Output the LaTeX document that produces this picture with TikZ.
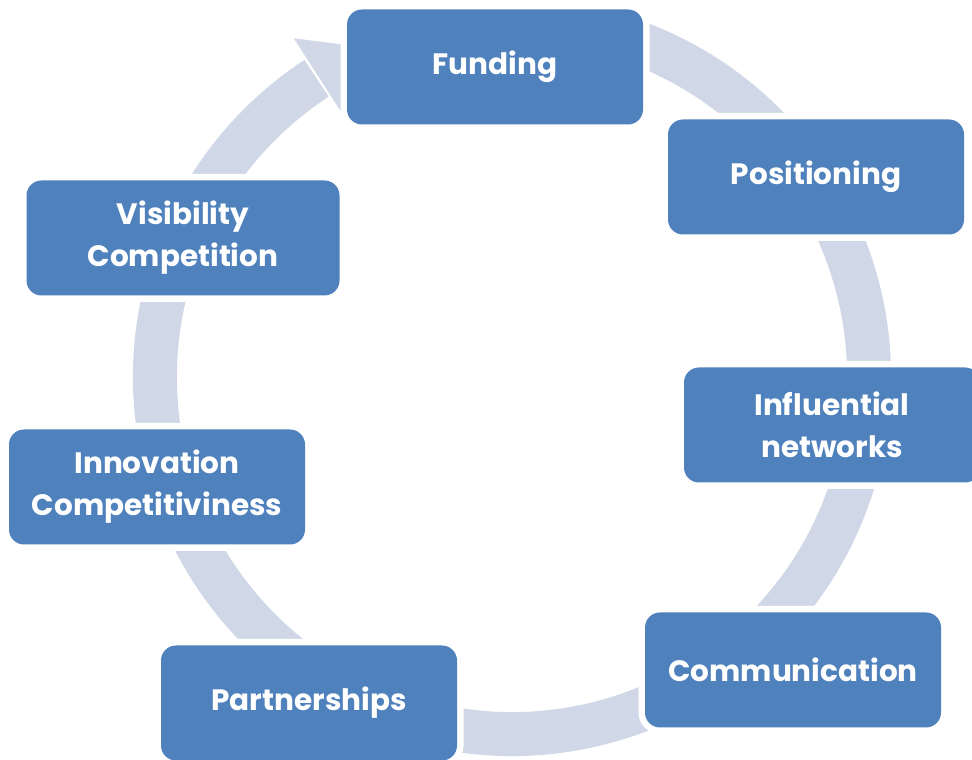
\documentclass[tikz,border=0pt]{standalone}
\usepackage{fontspec}
\setmainfont{Poppins}
\usepackage{tikz}
\usetikzlibrary{positioning}
\definecolor{boxblue}{HTML}{4F81BD}
\definecolor{ringgray}{HTML}{D0D8E8}

\begin{document}
\begin{tikzpicture}[x=1pt, y=1pt,
    stage/.style={rectangle, rounded corners=15pt, fill=boxblue, text=white,
      minimum width=296pt, minimum height=115pt, align=center,
      font=\fontsize{29.5}{42}\selectfont\bfseries,
      preaction={draw=white, line width=13pt}},
    ring/.style={draw=ringgray, line width=44pt}]
        \useasboundingbox (0,0) rectangle (972,760);
        \coordinate (ctr) at (512,383);
        % the cycle ring, drawn before the boxes
        \draw[ring] ([shift={(72:357)}]ctr) arc[start angle=72, end angle=-236.8, radius=357];
        \fill[ringgray] ([shift={(122.8:403)}]ctr) -- ([shift={(113:357)}]ctr) -- ([shift={(122.8:311)}]ctr) -- cycle;
        
        \node[stage] (fund) at (495,693) {Funding};
        \node[stage] (pos) at (816,583) {Positioning};
        \node[stage] (infl) at (832,335) {Influential\\networks};
        \node[stage] (comm) at (793,90) {Communication};
        \node[stage] (part) at (309,57) {Partnerships};
        \node[stage] (innov) at (157,273) {Innovation\\Competitiviness};
        \node[stage, minimum width=313pt] (vis) at (183,522) {Visibility\\Competition};
    \end{tikzpicture}
\end{document}
